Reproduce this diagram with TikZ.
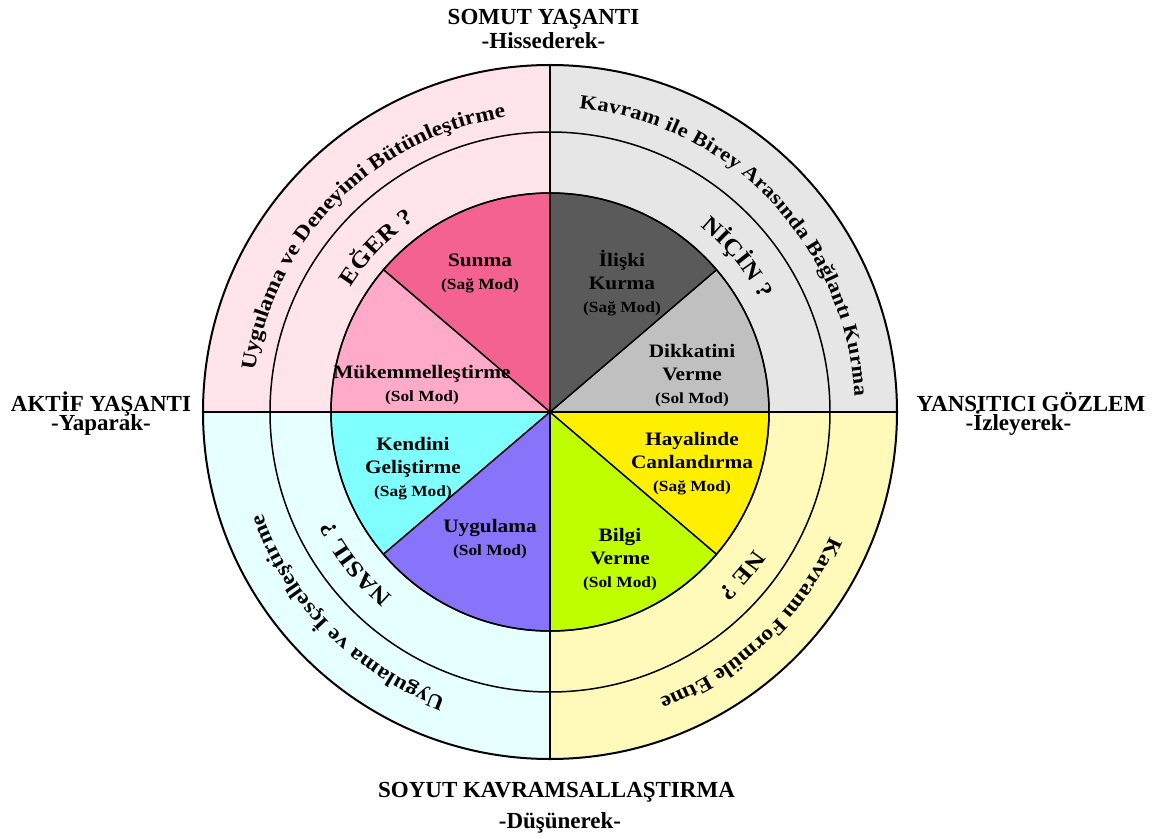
\documentclass[tikz,border=0pt]{standalone}
\usepackage{fontspec}
\setmainfont{Liberation Serif}
\newfontfamily\stretchfam[FakeStretch=1.12]{Liberation Serif}
\usetikzlibrary{decorations.text}

\definecolor{qTL}{RGB}{255,228,236}
\definecolor{qTR}{RGB}{230,230,230}
\definecolor{qBL}{RGB}{230,255,255}
\definecolor{qBR}{RGB}{255,250,185}
\definecolor{sSunma}{RGB}{244,98,146}
\definecolor{sMukem}{RGB}{255,170,200}
\definecolor{sIliski}{RGB}{90,90,90}
\definecolor{sDikkat}{RGB}{192,192,192}
\definecolor{sHayal}{RGB}{255,240,0}
\definecolor{sBilgi}{RGB}{192,255,0}
\definecolor{sUygul}{RGB}{136,116,250}
\definecolor{sKendi}{RGB}{128,255,255}

\newcommand\dLab{\stretchfam\bfseries\fontsize{19}{23}\selectfont}
\newcommand\dMod{\stretchfam\bfseries\fontsize{15.5}{22}\selectfont}
\newcommand\dRing{\stretchfam\bfseries\fontsize{21}{24}\selectfont}
\newcommand\dRingS{\stretchfam\bfseries\fontsize{20}{24}\selectfont}
\newcommand\dQ{\stretchfam\bfseries\fontsize{23}{26}\selectfont}
\newcommand\dHead{\bfseries\fontsize{23}{28}\selectfont}

\tikzset{
  ringline/.style={draw=black, line width=1.5pt},
  slice/.style={draw=black, line width=1.4pt},
  lab/.style={font=\dLab, align=center, inner sep=0pt},
  head/.style={font=\dHead, anchor=base, inner sep=0pt},
  ctext/.style={decorate, decoration={text along path, text align=fit to path, text={#1}}}
}

\begin{document}
\begin{tikzpicture}[x=1pt,y=1pt]
\useasboundingbox (-550,-426) rectangle (622,412);
\coordinate (c) at (0,0);
\coordinate (N) at (90:347);
\coordinate (S) at (270:347);
\coordinate (W) at (180:347);
\coordinate (E) at (0:347);

% quadrant backgrounds
\fill[qTL] (c) -- (90:347) arc[start angle=90, end angle=180, radius=347] -- cycle;
\fill[qTR] (c) -- (0:347) arc[start angle=0, end angle=90, radius=347] -- cycle;
\fill[qBL] (c) -- (180:347) arc[start angle=180, end angle=270, radius=347] -- cycle;
\fill[qBR] (c) -- (270:347) arc[start angle=270, end angle=360, radius=347] -- cycle;

% pie slices
\filldraw[slice, fill=sSunma]  (c) -- (90:219)    arc[start angle=90,    end angle=139.5, radius=219] -- cycle;
\filldraw[slice, fill=sMukem]  (c) -- (139.5:219) arc[start angle=139.5, end angle=180,   radius=219] -- cycle;
\filldraw[slice, fill=sKendi]  (c) -- (180:219)   arc[start angle=180,   end angle=220.5, radius=219] -- cycle;
\filldraw[slice, fill=sUygul]  (c) -- (220.5:219) arc[start angle=220.5, end angle=270,   radius=219] -- cycle;
\filldraw[slice, fill=sBilgi]  (c) -- (270:219)   arc[start angle=270,   end angle=319.5, radius=219] -- cycle;
\filldraw[slice, fill=sHayal]  (c) -- (319.5:219) arc[start angle=319.5, end angle=360,   radius=219] -- cycle;
\filldraw[slice, fill=sDikkat] (c) -- (0:219)     arc[start angle=0,     end angle=40.5,  radius=219] -- cycle;
\filldraw[slice, fill=sIliski] (c) -- (40.5:219)  arc[start angle=40.5,  end angle=90,    radius=219] -- cycle;

% circles and axes
\draw[ringline] (c) circle[radius=219];
\draw[ringline] (c) circle[radius=280];
\draw[ringline, line width=2pt] (c) circle[radius=347];
\draw[ringline] (W) -- (E);
\draw[ringline] (N) -- (S);

% slice labels
\node[lab] (sunma)  at (-70,139) {Sunma\\{\dMod (Sağ Mod)}};
\node[lab] (mukem)  at (-128,27)   {Mükemmelleştirme\\{\dMod (Sol Mod)}};
\node[lab] (iliski) at (72,128.5)  {İlişki\\Kurma\\{\dMod (Sağ Mod)}};
\node[lab] (dikkat) at (142,36)    {Dikkatini\\Verme\\{\dMod (Sol Mod)}};
\node[lab] (kendi)  at (-137,-57)  {Kendini\\Geliştirme\\{\dMod (Sağ Mod)}};
\node[lab] (uygul)  at (-60,-127)  {Uygulama\\{\dMod (Sol Mod)}};
\node[lab] (hayal)  at (142,-51.5) {Hayalinde\\Canlandırma\\{\dMod (Sağ Mod)}};
\node[lab] (bilgi)  at (70,-147.5) {Bilgi\\Verme\\{\dMod (Sol Mod)}};

% curved ring texts
\path[ctext={|\dRing|Uygulama ve Deneyimi Bütünleştirme}] (172:298) arc[start angle=172, end angle=99, radius=298];
\path[ctext={|\dRingS|Kavram ile Birey Arasında Bağlantı Kurma}] (84.5:305) arc[start angle=84.5, end angle=3, radius=305];
\path[ctext={|\dRing|Kavramı Formüle Etme}] (-24:307) arc[start angle=-24, end angle=-69, radius=307];
\path[ctext={|\dRing|Uygulama ve İçselleştirme}] (250:305) arc[start angle=250, end angle=199.5, radius=305];

\path[ctext={|\dQ|EĞER ?}] (148:235) arc[start angle=148, end angle=125, radius=235];
\path[ctext={|\dQ|NİÇİN ?}] (51:239) arc[start angle=51, end angle=28, radius=239];
\path[ctext={|\dQ|NE ?}] (-34:246) arc[start angle=-34, end angle=-47, radius=246];
\path[ctext={|\dQ|NASIL ?}] (229.5:243) arc[start angle=229.5, end angle=207.5, radius=243];

% headings
\node[head] (somut) at (-6.5,387) {SOMUT YAŞANTI};
\node[head] (hiss)  at (-6.5,363) {-Hissederek-};
\node[head] (aktif) at (-449,1) {AKTİF YAŞANTI};
\node[head] (yapar) at (-449,-18) {-Yaparak-};
\node[head] (yansi) at (481,1)  {YANSITICI GÖZLEM};
\node[head] (izley) at (468.5,-18) {-İzleyerek-};
\node[head] (soyut) at (6.5,-385) {SOYUT KAVRAMSALLAŞTIRMA};
\node[head] (dusun) at (10,-416)  {-Düşünerek-};
\end{tikzpicture}
\end{document}
